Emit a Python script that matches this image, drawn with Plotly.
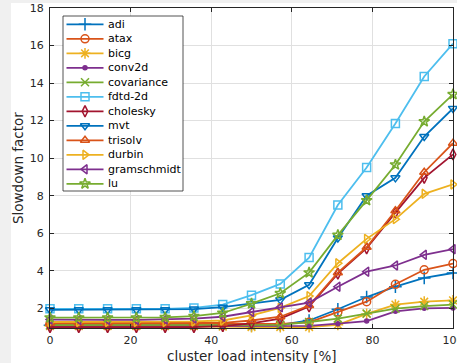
import plotly.graph_objects as go

# ---------------- data ----------------
load = [0, 7.14, 14.29, 21.43, 28.57, 35.71, 42.86, 50, 57.14, 64.29, 71.43, 78.57, 85.71, 92.86, 100]

adi         = [1.10, 1.10, 1.10, 1.10, 1.10, 1.10, 1.10, 1.10, 1.12, 1.35, 1.95, 2.60, 3.15, 3.62, 3.88]
atax        = [1.17, 1.17, 1.17, 1.17, 1.17, 1.17, 1.17, 1.17, 1.17, 1.25, 1.80, 2.35, 3.28, 4.05, 4.38]
bicg        = [1.05, 1.05, 1.05, 1.05, 1.05, 1.05, 1.02, 1.00, 1.00, 1.00, 1.12, 1.70, 2.20, 2.35, 2.42]
conv2d      = [1.05, 1.05, 1.05, 1.05, 1.05, 1.05, 1.05, 1.05, 1.05, 1.06, 1.18, 1.32, 1.84, 2.00, 2.02]
covariance  = [1.10, 1.10, 1.10, 1.10, 1.10, 1.10, 1.10, 1.10, 1.12, 1.27, 1.45, 1.72, 1.98, 2.12, 2.20]
fdtd_2d     = [1.97, 1.97, 1.97, 1.97, 1.97, 2.02, 2.20, 2.70, 3.30, 4.70, 7.50, 9.50, 11.85, 14.35, 16.10]
cholesky    = [1.00, 1.00, 1.00, 1.00, 1.00, 1.00, 1.05, 1.20, 1.45, 2.10, 3.85, 5.20, 7.10, 8.95, 10.20]
mvt         = [1.92, 1.92, 1.92, 1.92, 1.92, 1.96, 2.06, 2.25, 2.45, 3.25, 5.75, 8.00, 8.95, 11.15, 12.65]
trisolv     = [1.22, 1.22, 1.22, 1.22, 1.22, 1.22, 1.22, 1.35, 1.55, 2.15, 3.90, 5.25, 7.20, 9.25, 10.80]
durbin      = [1.27, 1.27, 1.27, 1.27, 1.27, 1.30, 1.35, 1.62, 2.02, 2.65, 4.40, 5.70, 6.75, 8.10, 8.60]
gramschmidt = [1.40, 1.38, 1.38, 1.38, 1.40, 1.45, 1.55, 1.80, 2.05, 2.30, 3.15, 3.95, 4.28, 4.85, 5.15]
lu          = [1.50, 1.50, 1.50, 1.50, 1.52, 1.58, 1.75, 2.25, 2.80, 3.90, 5.90, 7.75, 9.65, 11.95, 13.40]

names = ["adi", "atax", "bicg", "conv2d", "covariance", "fdtd-2d", "cholesky",
         "mvt", "trisolv", "durbin", "gramschmidt", "lu"]
series = [adi, atax, bicg, conv2d, covariance, fdtd_2d, cholesky,
          mvt, trisolv, durbin, gramschmidt, lu]

x_ticks = [0, 20, 40, 60, 80, 100]
y_ticks = [2, 4, 6, 8, 10, 12, 14, 16, 18]
x_title = "cluster load intensity [%]"
y_title = "Slowdown factor"

# ---------------- styles ----------------
colors = ["#0072BD", "#D95319", "#EDB120", "#7E2F8E", "#77AC30", "#4DBEEE",
          "#A2142F", "#0072BD", "#D95319", "#EDB120", "#7E2F8E", "#77AC30"]
symbols = ["cross-thin-open", "circle-open", "asterisk-open", "circle", "x-thin-open",
           "square-open", "diamond-tall-open", "triangle-down-open", "triangle-up-open",
           "triangle-right-open", "triangle-left-open", "star-open"]
msizes = [9, 8, 9, 4, 8, 8, 8, 8, 8, 8, 8, 8]

W, H = 457, 363
L, R, T, B = 50, 453, 8, 328
FONT = "DejaVu Sans"

def px(xp):
    return (xp - L) / (R - L)

def py(yp):
    return (B - yp) / (B - T)

fig = go.Figure()

for name, ys, c, s, ms in zip(names, series, colors, symbols, msizes):
    fig.add_trace(go.Scatter(
        x=load, y=ys, name=name, mode="lines+markers",
        line=dict(color=c, width=1.8),
        marker=dict(symbol=s, size=ms, color=c, line=dict(color=c, width=1.5)),
        cliponaxis=False, showlegend=False,
        xaxis="x", yaxis="y",
    ))

# ---------------- manual legend (pixel-space overlay axes) ----------------
box_x0, box_x1, box_y0, box_y1 = 63, 183, 16, 191
fig.add_trace(go.Scatter(
    x=[box_x0, box_x1, box_x1, box_x0, box_x0],
    y=[box_y0, box_y0, box_y1, box_y1, box_y0],
    mode="lines", fill="toself", fillcolor="white",
    line=dict(color="#262626", width=0.8),
    hoverinfo="skip", showlegend=False, xaxis="x2", yaxis="y2",
))
first_y, step = 24.3, 14.5
for i, (name, c, s, ms) in enumerate(zip(names, colors, symbols, msizes)):
    yy = first_y + i * step
    fig.add_trace(go.Scatter(
        x=[66.5, 103.5], y=[yy, yy], mode="lines",
        line=dict(color=c, width=1.8), hoverinfo="skip",
        showlegend=False, xaxis="x2", yaxis="y2",
    ))
    fig.add_trace(go.Scatter(
        x=[85], y=[yy], mode="markers",
        marker=dict(symbol=s, size=ms, color=c, line=dict(color=c, width=1.5)),
        hoverinfo="skip", showlegend=False, xaxis="x2", yaxis="y2",
    ))
    fig.add_annotation(
        x=px(106), y=py(yy), xref="paper", yref="paper",
        text=name, showarrow=False, xanchor="left", yanchor="middle",
        font=dict(family=FONT, size=11, color="#000000"),
    )

# axis titles
fig.add_annotation(x=px(251.5), y=py(356), xref="paper", yref="paper",
                   text=x_title, showarrow=False, xanchor="center", yanchor="middle",
                   font=dict(family=FONT, size=13.5, color="#262626"))
fig.add_annotation(x=px(18), y=py(168), xref="paper", yref="paper",
                   text=y_title, showarrow=False, xanchor="center", yanchor="middle",
                   textangle=-90,
                   font=dict(family=FONT, size=13.5, color="#262626"))

# background: gray window strip left/top, white figure
fig.add_shape(type="rect", xref="paper", yref="paper",
              x0=px(11), x1=px(470), y0=py(380), y1=py(3),
              fillcolor="white", line=dict(width=0), layer="below")

axis_common = dict(
    showline=True, linecolor="#262626", linewidth=1, mirror="ticks",
    ticks="inside", ticklen=4, tickcolor="#262626", tickwidth=1,
    showgrid=True, gridcolor="#e0e0e0", gridwidth=1, zeroline=False,
    ticklabeloverflow="allow",
    tickfont=dict(family=FONT, size=11, color="#262626"),
)

fig.update_layout(
    width=W, height=H,
    margin=dict(l=L, r=W - R, t=T, b=H - B, autoexpand=False),
    paper_bgcolor="#f0f0f0", plot_bgcolor="white",
    showlegend=False,
    xaxis=dict(range=[0, 100], tickvals=x_ticks, ticklabelstandoff=2, **axis_common),
    yaxis=dict(range=[0.95, 18], tickvals=y_ticks, ticklabelstandoff=3, **axis_common),
    xaxis2=dict(range=[L, R], overlaying="x", visible=False, anchor="y2", fixedrange=True),
    yaxis2=dict(range=[B, T], overlaying="y", visible=False, anchor="x2", fixedrange=True),
)

fig.write_html("out.html")
